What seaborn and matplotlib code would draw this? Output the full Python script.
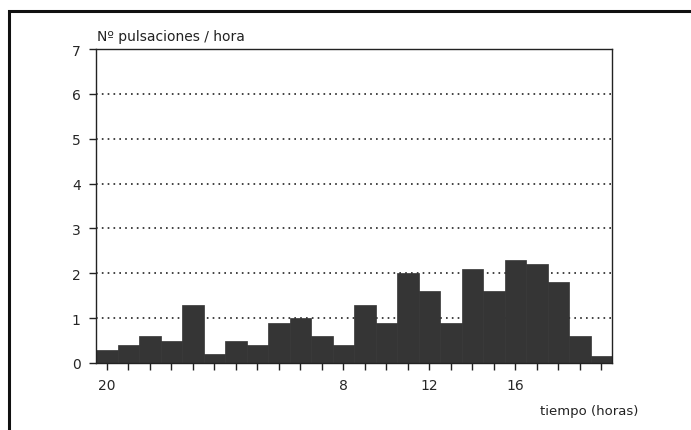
import matplotlib
matplotlib.use("Agg")
import matplotlib.pyplot as plt
import seaborn as sns
import pandas as pd
from matplotlib.patches import Rectangle

# hourly bins, starting at 20 h
hours = [20, 21, 22, 23, 0, 1, 2, 3, 4, 5, 6, 7,
         8, 9, 10, 11, 12, 13, 14, 15, 16, 17, 18, 19]
pulses = [0.3, 0.4, 0.6, 0.5, 1.3, 0.2, 0.5, 0.4, 0.9, 1.0, 0.6, 0.4,
          1.3, 0.9, 2.0, 1.6, 0.9, 2.1, 1.6, 2.3, 2.2, 1.8, 0.6, 0.15]
# labels as printed under the axis (only a few hours are labelled)
tick_labels = ["20", "", "", "", "", "", "", "", "", "", "", "8",
               "", "", "", "12", "", "", "", "16", "", "", "", ""]
y_ticks = [0, 1, 2, 3, 4, 5, 6, 7]

df = pd.DataFrame({"hora": hours, "pulsaciones": pulses})

sns.set_style("white")
plt.rcParams["font.family"] = ["DejaVu Sans"]

fig = plt.figure(figsize=(6.91, 4.31), dpi=100)
ax = fig.add_axes([96 / 691, 67 / 431, 516 / 691, 314 / 431])

sns.barplot(data=df, x="hora", y="pulsaciones", order=hours,
            color="#353535", saturation=1, width=1.0,
            edgecolor="#353535", linewidth=0.5, ax=ax)

ax.set_xlim(-0.5, len(hours) - 0.5)
ax.set_ylim(0, 7)
ax.set_yticks(y_ticks)
ax.set_yticklabels([str(v) for v in y_ticks], fontsize=10)
ax.set_xticks(range(len(hours)))
ax.set_xticklabels(tick_labels, fontsize=10)
ax.tick_params(axis="both", direction="out", length=5, width=1,
               color="#222222", pad=6, bottom=True, left=True)
ax.set_xlabel("")
ax.set_ylabel("")

# dotted horizontal grid behind the bars
ax.set_axisbelow(True)
for v in y_ticks[1:-1]:
    ax.axhline(v, color="#222222", linestyle=(0, (1, 2.5)),
               linewidth=1.2, zorder=0)

for s in ax.spines.values():
    s.set_visible(True)
    s.set_color("#222222")
    s.set_linewidth(1.0)

fig.text(97 / 691, 1 - 37 / 431, "Nº pulsaciones / hora",
         fontsize=10, va="center", ha="left", color="#222222")
fig.text(540 / 691, 1 - 412 / 431, "tiempo (horas)",
         fontsize=9.5, va="center", ha="left", color="#222222")

# outer frame of the figure
fig.patches.append(Rectangle((9 / 691, -0.2), 1.2, 1.2 - 12 / 431,
                             transform=fig.transFigure, fill=False,
                             edgecolor="#111111", linewidth=2.2))

fig.savefig("out.png", dpi=100)
